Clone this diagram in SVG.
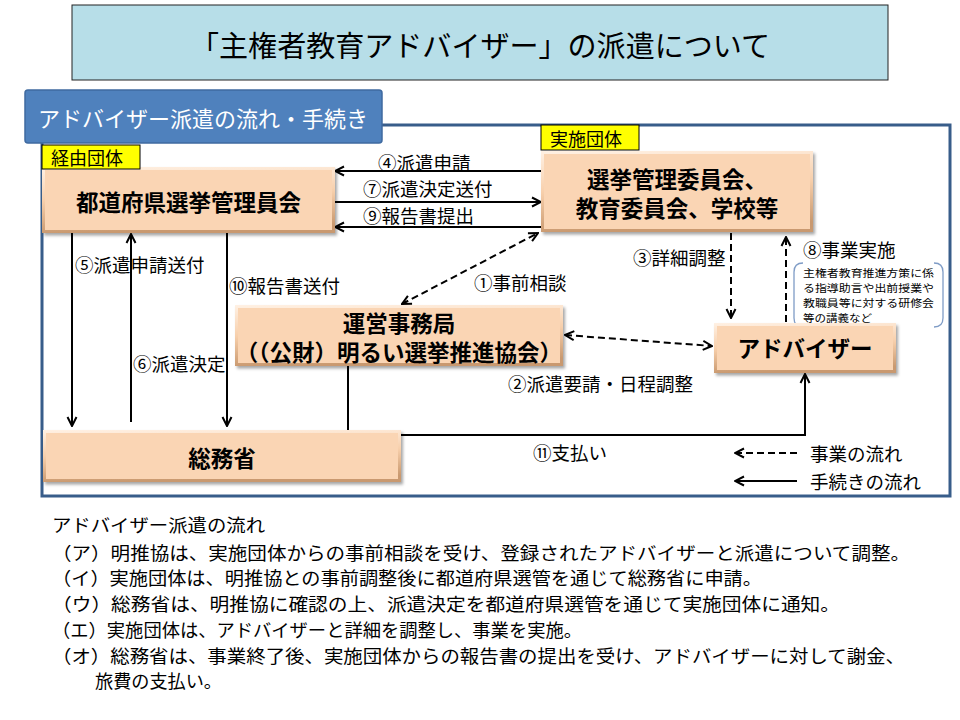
<svg xmlns="http://www.w3.org/2000/svg" width="960" height="720" viewBox="0 0 960 720">
<style>
text{font-family:"Noto Sans CJK JP","Noto Sans",sans-serif;fill:#000}
.lbl{font-size:18.5px;dominant-baseline:central}
.bx{font-size:22.5px;font-weight:700;text-anchor:middle;dominant-baseline:central}
.tag{font-size:18px;dominant-baseline:central}
.note{font-size:10.3px;dominant-baseline:central}
.body{font-size:18px;dominant-baseline:central}
.sol{fill:none;stroke:#000;stroke-width:2}
.dsh{fill:none;stroke:#000;stroke-width:2;stroke-dasharray:7 4}
.outer{fill:url(#bev);filter:url(#sh)}
.inner{fill:#fad5b4}
.yl{fill:#ffff00;stroke:#000;stroke-width:1}
</style>
<defs>
<linearGradient id="bev" x1="0" y1="0" x2="0.15" y2="1">
<stop offset="0" stop-color="#fff1e4"/>
<stop offset="0.5" stop-color="#f7cfab"/>
<stop offset="1" stop-color="#c9996f"/>
</linearGradient>
<filter id="sh" x="-10%" y="-20%" width="120%" height="150%">
<feDropShadow dx="2" dy="2.5" stdDeviation="1.5" flood-color="#000" flood-opacity="0.35"/>
</filter>
<marker id="ah" viewBox="0 0 12 12" refX="11" refY="6" markerWidth="12" markerHeight="12" markerUnits="userSpaceOnUse" orient="auto-start-reverse">
<path d="M2,1.5 L11,6 L2,10.5" fill="none" stroke="#000" stroke-width="2" stroke-dasharray="none"/>
</marker>
</defs>
<rect width="960" height="720" fill="#fff"/>

<g id="title">
<rect x="72" y="5" width="816" height="75" fill="#b7dee8" stroke="#222" stroke-width="1"/>
<text x="190" y="44" font-size="29" dominant-baseline="central" textLength="580" lengthAdjust="spacingAndGlyphs">「主権者教育アドバイザー」の派遣について</text>
</g>

<g id="frame">
<rect x="42" y="125" width="908" height="371" fill="none" stroke="#385d8a" stroke-width="3"/>
</g>

<g id="tab">
<rect x="25" y="90" width="357" height="53" rx="3" fill="#4f81bd" stroke="#3f6aa0" stroke-width="1.5"/>
<text x="38" y="117" font-size="22" dominant-baseline="central" style="fill:#fff" textLength="330" lengthAdjust="spacingAndGlyphs">アドバイザー派遣の流れ・手続き</text>
</g>

<g id="connectors">
<path class="sol" d="M541,171 H335" marker-end="url(#ah)"/>
<path class="sol" d="M335,202 H541" marker-end="url(#ah)"/>
<path class="sol" d="M541,227 H335" marker-end="url(#ah)"/>
<path class="sol" d="M72,233 V426" marker-end="url(#ah)"/>
<path class="sol" d="M131,422 V234" marker-end="url(#ah)"/>
<path class="sol" d="M227,233 V426" marker-end="url(#ah)"/>
<path class="sol" d="M348,366 V430"/>
<path class="sol" d="M401,435 H805 V374" marker-end="url(#ah)"/>
<path class="dsh" d="M402,304 L538,233" marker-start="url(#ah)" marker-end="url(#ah)"/>
<path class="dsh" d="M565,335 L712,346" marker-start="url(#ah)" marker-end="url(#ah)"/>
<path class="dsh" d="M731,233 V318" marker-end="url(#ah)"/>
<path class="dsh" d="M786,322 V237" marker-end="url(#ah)"/>
<path class="dsh" d="M797,453 H735" marker-end="url(#ah)"/>
<path class="sol" d="M797,481 H735" marker-end="url(#ah)"/>
</g>

<g id="connector-labels">
<text class="lbl" x="378" y="162">④派遣申請</text>
<text class="lbl" x="363" y="188">⑦派遣決定送付</text>
<text class="lbl" x="363" y="215">⑨報告書提出</text>
<text class="lbl" x="75" y="264">⑤派遣申請送付</text>
<text class="lbl" x="133" y="363">⑥派遣決定</text>
<text class="lbl" x="229" y="285">⑩報告書送付</text>
<text class="lbl" x="474" y="282">①事前相談</text>
<text class="lbl" x="508" y="383">②派遣要請・日程調整</text>
<text class="lbl" x="633" y="257">③詳細調整</text>
<text class="lbl" x="803" y="249" font-size="19">⑧事業実施</text>
<text class="lbl" x="533" y="452">⑪支払い</text>
<text class="lbl" x="810" y="453">事業の流れ</text>
<text class="lbl" x="810" y="481">手続きの流れ</text>
</g>

<g id="note">
<path d="M803,263 Q794,263 794,272 V318 Q794,327 803,327" fill="none" stroke="#7f9cc6" stroke-width="1.3"/>
<path d="M934,263 Q943,263 943,272 V318 Q943,327 934,327" fill="none" stroke="#7f9cc6" stroke-width="1.3"/>
<text class="note" x="803" y="272" textLength="131" lengthAdjust="spacingAndGlyphs">主権者教育推進方策に係</text>
<text class="note" x="803" y="287" textLength="131" lengthAdjust="spacingAndGlyphs">る指導助言や出前授業や</text>
<text class="note" x="803" y="302" textLength="131" lengthAdjust="spacingAndGlyphs">教職員等に対する研修会</text>
<text class="note" x="803" y="317" textLength="69" lengthAdjust="spacingAndGlyphs">等の講義など</text>
</g>

<g id="pref">
<rect class="outer" x="42" y="167" width="293" height="66"/>
<rect class="inner" x="45" y="170" width="287" height="60"/>
<text class="bx" x="188.5" y="201" font-size="23.5">都道府県選挙管理員会</text>
</g>
<g id="pref-tag">
<rect class="yl" x="42" y="145" width="98" height="24"/>
<text class="tag" x="51" y="157">経由団体</text>
</g>

<g id="jisshi">
<rect class="outer" x="541" y="151" width="272" height="81"/>
<rect class="inner" x="544" y="154" width="266" height="75"/>
<text class="bx" x="677" y="178">選挙管理委員会、</text>
<text class="bx" x="677" y="207">教育委員会、学校等</text>
</g>
<g id="jisshi-tag">
<rect class="yl" x="541" y="125" width="98" height="25"/>
<text class="tag" x="550" y="137.5">実施団体</text>
</g>

<g id="unei">
<rect class="outer" x="235" y="305" width="328" height="61"/>
<rect class="inner" x="238" y="308" width="322" height="55"/>
<text class="bx" x="399" y="322" font-size="21.5">運営事務局</text>
<text class="bx" x="399" y="351" font-size="21.5">（（公財）明るい選挙推進協会）</text>
</g>

<g id="adviser">
<rect class="outer" x="714" y="323" width="182" height="50"/>
<rect class="inner" x="717" y="326" width="176" height="44"/>
<text class="bx" x="805" y="347" font-size="21.5" font-weight="500">アドバイザー</text>
</g>

<g id="somu">
<rect class="outer" x="43" y="430" width="358" height="52"/>
<rect class="inner" x="46" y="433" width="352" height="46"/>
<text class="bx" x="222" y="457">総務省</text>
</g>

<g id="explanation">
<text class="body" x="52" y="524" textLength="213" lengthAdjust="spacingAndGlyphs">アドバイザー派遣の流れ</text>
<text class="body" x="52" y="552" textLength="858" lengthAdjust="spacingAndGlyphs">（ア）明推協は、実施団体からの事前相談を受け、登録されたアドバイザーと派遣について調整。</text>
<text class="body" x="52" y="577" textLength="710" lengthAdjust="spacingAndGlyphs">（イ）実施団体は、明推協との事前調整後に都道府県選管を通じて総務省に申請。</text>
<text class="body" x="52" y="603" textLength="788" lengthAdjust="spacingAndGlyphs">（ウ）総務省は、明推協に確認の上、派遣決定を都道府県選管を通じて実施団体に通知。</text>
<text class="body" x="52" y="629" textLength="530" lengthAdjust="spacingAndGlyphs">（エ）実施団体は、アドバイザーと詳細を調整し、事業を実施。</text>
<text class="body" x="52" y="655" textLength="853" lengthAdjust="spacingAndGlyphs">（オ）総務省は、事業終了後、実施団体からの報告書の提出を受け、アドバイザーに対して謝金、</text>
<text class="body" x="95" y="680" textLength="127" lengthAdjust="spacingAndGlyphs">旅費の支払い。</text>
</g>
</svg>
